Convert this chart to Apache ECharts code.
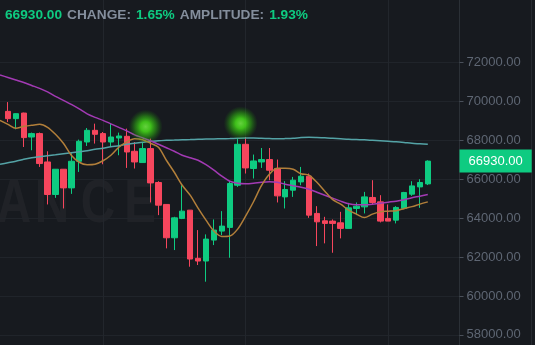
<!DOCTYPE html>
<html>
<head>
<meta charset="utf-8">
<script src="https://cdn.jsdelivr.net/npm/echarts@6/dist/echarts.min.js"></script>
<style>
html,body{margin:0;padding:0;background:#171a1f;}
#c{width:535px;height:345px;}
</style>
</head>
<body>
<div id="c"></div>
<script>
// ---- data ----
const categories = Array.from({length: 59}, (_, i) => 'K' + i); // index 0 = lead-in, 1..54 candles, 55..58 empty
const opens  = [69487,69113,69400,68169,68344,66887,65215,66513,65554,66923,67913,68513,68344,67913,68118,68205,67436,66856,67574,65831,64703,62990,63985,64410,61934,61795,62872,63333,63523,65692,67795,66549,66887,67010,66549,65092,65436,65862,66154,64241,63862,63846,63759,63472,64497,64579,65062,64836,63985,63897,64497,65231,65605,65760];
const closes = [69113,69369,68138,68344,66805,65215,66513,65554,66923,67949,68513,68308,67913,68169,68221,67400,66887,67574,65810,64667,62990,64015,64359,61897,61795,62923,63385,63590,65779,67795,66580,66938,67010,66462,65144,65472,65949,66154,64154,63810,63728,63728,63472,64528,64615,65092,64805,63846,63846,64549,65318,65656,65831,66930];
const lows   = [68938,68564,67656,67487,66631,64703,65041,64497,65246,66374,67708,67831,66769,67656,67231,66580,66549,66856,64805,64154,62446,62359,63949,61503,61590,60733,62615,63128,61964,65605,66292,66036,66580,65949,64805,64497,65092,65692,64015,62564,62703,62220,62959,63472,64154,64241,64718,63779,63846,63728,64462,65144,64528,65700];
const highs  = [69964,69385,69420,68395,68400,67436,66513,66513,67333,68036,68631,68856,68426,68887,68395,68600,67913,67913,68087,65897,64703,64067,65692,64410,63385,63164,63933,64359,65897,68118,68169,67267,67605,67605,67010,65897,66118,66631,66292,64615,64067,63933,64323,64785,64805,65349,65949,65179,64703,64615,65349,65897,66000,66970];
// moving averages (index 0 = lead-in point)
const maShort = [69026,68821,68615,68718,68769,68821,68667,68308,67846,67231,66872,66744,66769,66949,67231,67641,67923,68077,68026,67846,67641,66974,66359,65692,65179,64513,63897,63333,63051,63077,63436,64103,64841,65667,66256,66564,66564,66513,66282,66205,65846,65385,64949,64718,64410,64205,64026,64205,64333,64359,64385,64487,64590,64718,64836];
const maMid   = [71359,71231,71103,70974,70820,70667,70487,70256,70051,69846,69615,69359,69179,69026,68846,68667,68487,68282,68128,67974,67795,67615,67436,67231,67103,66974,66744,66462,66154,65897,65795,65769,65795,65846,65872,65846,65744,65667,65590,65487,65333,65179,65026,64872,64744,64692,64692,64718,64769,64821,64872,64949,65051,65128,65215];
const maLong  = [66769,66846,66923,67026,67103,67154,67205,67256,67308,67359,67410,67462,67538,67590,67667,67718,67795,67846,67897,67949,67974,68000,68010,68026,68036,68051,68062,68072,68077,68087,68103,68113,68113,68103,68092,68077,68087,68103,68138,68154,68144,68128,68103,68077,68051,68036,68026,68000,67974,67949,67923,67887,67846,67821,67795];
const glowPoints = [[18, 68700], [30, 68870]];
const yTicks = [58000, 60000, 62000, 64000, 66000, 68000, 70000, 72000];
const headerChange = '1.65%';
const headerAmplitude = '1.93%';

// ---- build ----
const lastPrice = closes[closes.length - 1];
const candleData = [['-','-','-','-']].concat(opens.map((o, i) => [o, closes[i], lows[i], highs[i]]));

const UP = '#0ecb81', DOWN = '#f6465d';
const chart = echarts.init(document.getElementById('c'), null, {renderer: 'canvas'});

const glowColor = new echarts.graphic.RadialGradient(0.5, 0.5, 0.5, [
  {offset: 0, color: 'rgba(120,255,70,1)'},
  {offset: 0.3, color: 'rgba(75,240,25,0.97)'},
  {offset: 0.62, color: 'rgba(50,200,15,0.6)'},
  {offset: 1, color: 'rgba(30,150,10,0)'}
]);

const wmStyle = {fill: 'rgba(255,255,255,0.04)', font: 'bold 61px "Liberation Sans", Arial, sans-serif', textAlign: 'center', textVerticalAlign: 'middle'};

chart.setOption({
  backgroundColor: '#171a1f',
  animation: false,
  textStyle: {fontFamily: '"Liberation Sans", Arial, sans-serif'},
  title: {
    left: 5, top: 6, padding: 0,
    text: '{g|' + lastPrice.toFixed(2) + '} {l|CHANGE:} {g|' + headerChange + '} {l|AMPLITUDE:} {g|' + headerAmplitude + '}',
    textStyle: {
      rich: {
        g: {color: UP, fontSize: 13.7, lineHeight: 16},
        l: {color: '#848e9c', fontSize: 13.7, lineHeight: 16}
      }
    }
  },
  graphic: [
    {type: 'group', z: -10, children: [
      {type: 'text', x: 14, y: 205, scaleX: 0.78, style: Object.assign({text: 'A'}, wmStyle)},
      {type: 'text', x: 52, y: 205, scaleX: 0.78, style: Object.assign({text: 'N'}, wmStyle)},
      {type: 'text', x: 98, y: 205, scaleX: 0.78, style: Object.assign({text: 'C'}, wmStyle)},
      {type: 'text', x: 140, y: 205, scaleX: 0.78, style: Object.assign({text: 'E'}, wmStyle)}
    ]},
    {type: 'line', shape: {x1: 531.5, y1: 0, x2: 531.5, y2: 345}, style: {stroke: '#262a30', lineWidth: 1}}
  ],
  grid: {left: -4.5, right: 75.5, top: 0, bottom: 0, containLabel: false},
  xAxis: {
    type: 'category',
    data: categories,
    boundaryGap: false,
    axisLine: {show: false},
    axisTick: {show: false},
    axisLabel: {show: false},
    splitLine: {
      show: true,
      interval: function (idx) { return idx % 18 === 13; },
      lineStyle: {color: '#22262c', width: 1}
    }
  },
  yAxis: {
    type: 'value',
    position: 'right',
    min: 57479,
    max: 75211,
    scale: true,
    axisLine: {show: true, lineStyle: {color: '#2b3036'}},
    axisTick: {show: true, length: 4, customValues: yTicks, lineStyle: {color: '#4a505a'}},
    axisLabel: {
      customValues: yTicks,
      margin: 7,
      color: '#5e6673',
      fontSize: 13,
      formatter: v => Number(v).toFixed(2)
    },
    splitLine: {show: true, lineStyle: {color: '#20242a', width: 1}}
  },
  series: [
    {
      type: 'candlestick',
      data: candleData,
      barWidth: 6,
      itemStyle: {color: UP, color0: DOWN, borderColor: UP, borderColor0: DOWN, borderWidth: 1},
      markLine: {
        silent: true,
        symbol: 'none',
        lineStyle: {color: 'rgba(0,0,0,0)', width: 0},
        label: {
          show: true,
          position: 'end',
          distance: 0,
          formatter: lastPrice.toFixed(2),
          backgroundColor: UP,
          color: '#ffffff',
          fontSize: 13,
          padding: [5, 9, 5, 9]
        },
        data: [{yAxis: lastPrice}]
      },
      z: 2
    },
    {type: 'line', data: maLong, showSymbol: false, smooth: 0.3, lineStyle: {color: '#54a3a6', width: 1.5}, z: 3},
    {type: 'line', data: maMid, showSymbol: false, smooth: 0.3, lineStyle: {color: '#a33ab4', width: 1.5}, z: 3},
    {type: 'line', data: maShort, showSymbol: false, smooth: 0.3, lineStyle: {color: '#b27f3a', width: 1.5}, z: 3},
    {
      type: 'scatter',
      data: glowPoints,
      symbol: 'circle',
      symbolSize: 34,
      symbolOffset: [3, 0],
      itemStyle: {color: glowColor},
      z: 5
    }
  ]
});
</script>
</body>
</html>
